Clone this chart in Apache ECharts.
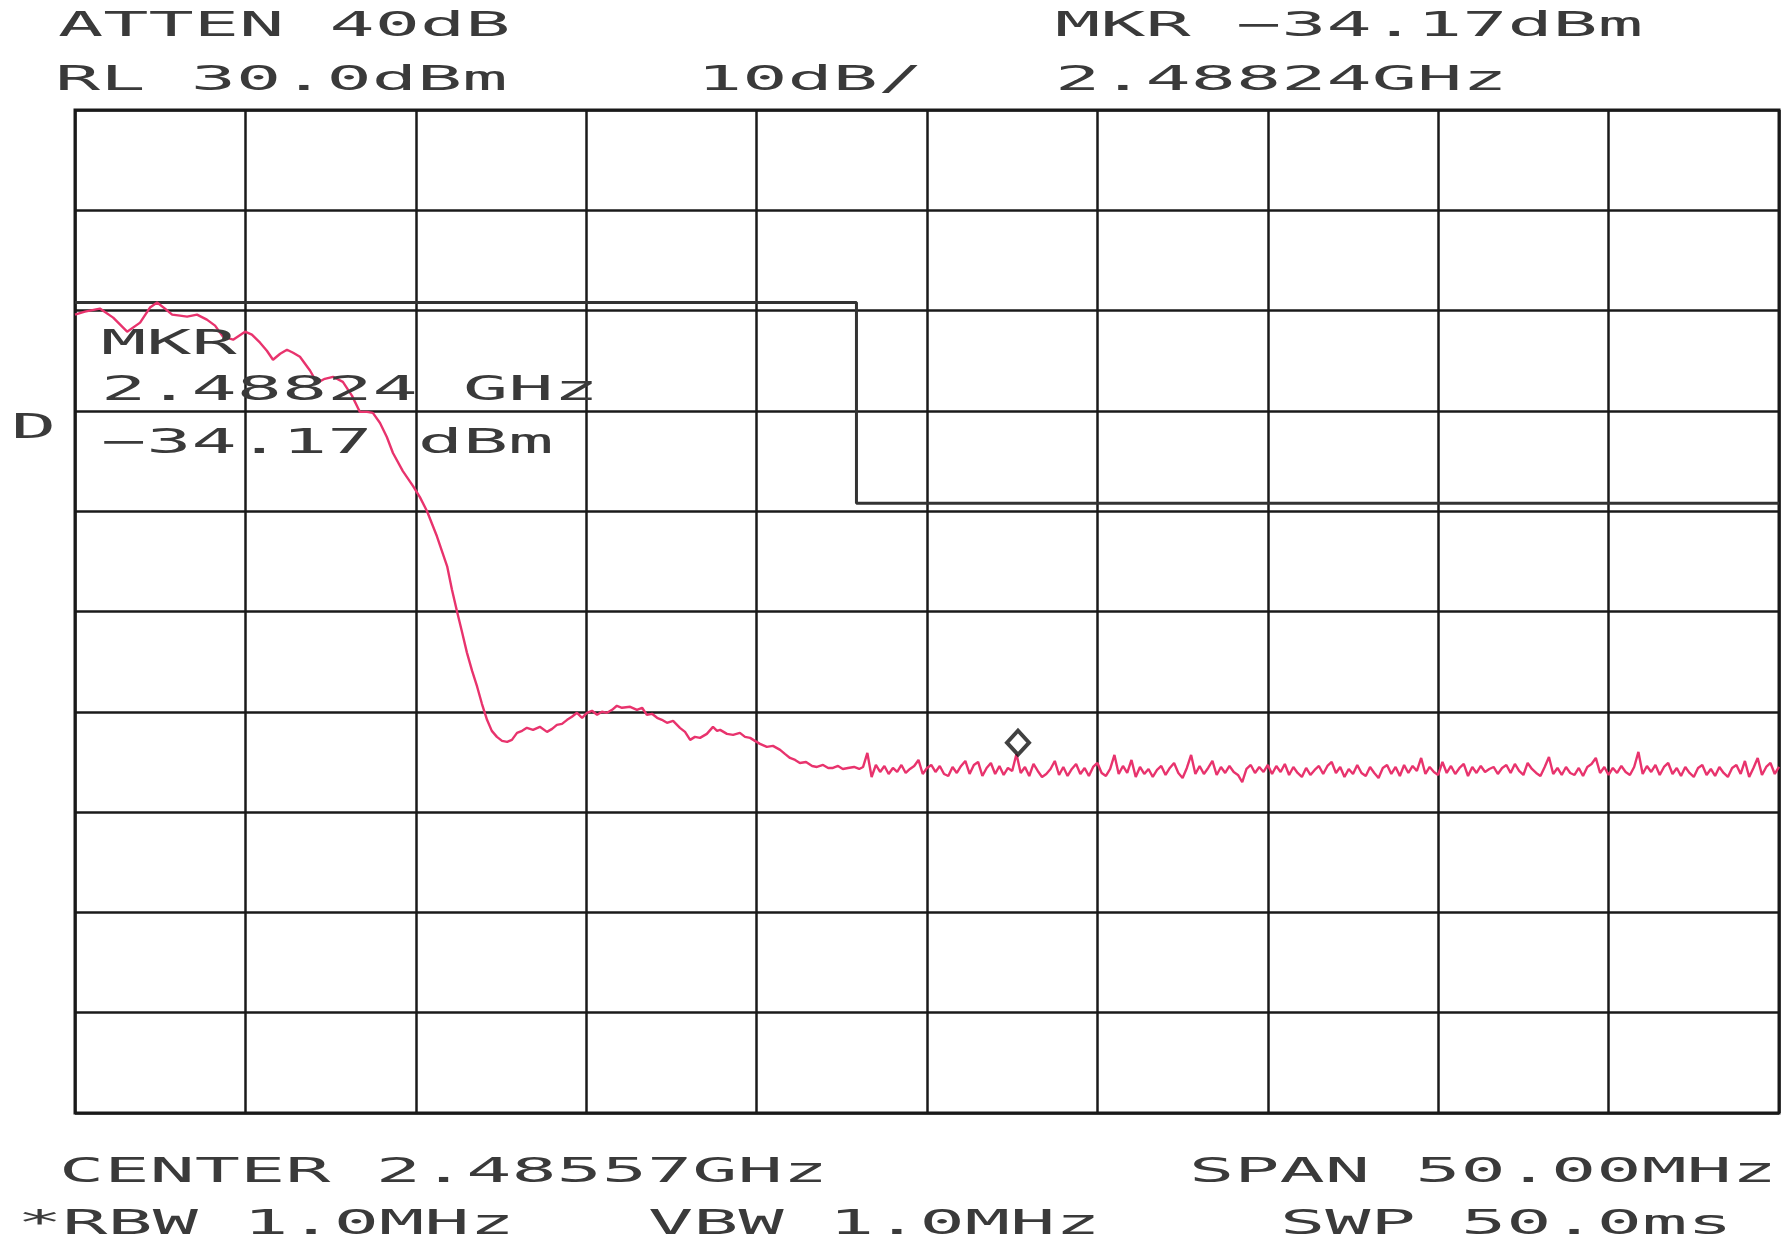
<!DOCTYPE html>
<html>
<head>
<meta charset="utf-8">
<script src="https://cdn.jsdelivr.net/npm/echarts@6/dist/echarts.min.js"></script>
<style>
  html, body { margin: 0; padding: 0; background: #ffffff; }
  #chart { width: 1785px; height: 1244px; }
</style>
</head>
<body>
<div id="chart"></div>
<script>
// ---- Analyzer settings (from the plotter annotations) ----
const centerGHz = 2.48557;
const spanMHz = 50;
const refLevelDbm = 30;
const dbPerDiv = 10;
const markerGHz = 2.48824;
const markerDbm = -34.17;
const bandEdgeGHz = 2.4835;

// ---- Trace: roll-off region, frequency offset from centre (MHz) and level (dBm) ----
const rolloffMHz = [
  -25.00, -24.71, -24.27, -23.88, -23.47, -23.09, -22.80, -22.59, -22.36, -22.15,
  -21.92, -21.71, -21.42, -21.13, -20.89, -20.66, -20.36, -20.01, -19.81, -19.57,
  -19.37, -19.19, -18.98, -18.78, -18.60, -18.40, -18.10, -17.90, -17.67, -17.43,
  -17.14, -16.87, -16.64, -16.43, -16.26, -16.05, -15.85, -15.67, -15.38, -15.08,
  -14.88, -14.67, -14.38, -14.08, -13.94, -13.79, -13.64, -13.50, -13.35, -13.20,
  -13.06, -12.91, -12.77, -12.62, -12.47, -12.32, -12.18, -12.03, -11.88, -11.74,
  -11.56, -11.36, -11.15, -11.00, -10.86, -10.71, -10.56, -10.42, -10.27, -10.12,
  -9.98, -9.83, -9.68, -9.54, -9.39, -9.24, -9.10, -8.95, -8.71, -8.51,
  -8.36, -8.22, -8.07, -7.92, -7.78, -7.63, -7.45, -7.25, -7.10, -6.95,
  -6.81, -6.66, -6.46, -6.28, -6.16, -6.07, -5.87, -5.69, -5.49, -5.34,
  -5.19, -5.05, -4.90, -4.70, -4.52, -4.31, -4.17, -4.02, -3.87, -3.73,
  -3.55, -3.37, -3.23, -3.05, -2.90, -2.76, -2.61, -2.47, -2.32, -2.14,
  -1.99
];
const rolloffDbm = [
  9.6, 9.9, 10.2, 9.3, 7.9, 8.8, 10.3, 10.8, 10.2, 9.6,
  9.5, 9.4, 9.6, 9.1, 8.5, 7.4, 7.1, 7.9, 7.6, 6.8,
  6.0, 5.1, 5.7, 6.1, 5.8, 5.4, 4.0, 2.8, 3.2, 3.4,
  2.9, 1.5, -0.1, -0.1, -0.2, -1.2, -2.6, -4.2, -6.0, -7.5,
  -8.6, -10.0, -12.5, -15.5, -17.8, -20.0, -22.1, -24.1, -25.9, -27.5,
  -29.2, -30.8, -31.9, -32.5, -32.9, -33.0, -32.8, -32.1, -31.9, -31.6,
  -31.8, -31.5, -32.0, -31.7, -31.3, -31.2, -30.8, -30.5, -30.1, -30.6,
  -30.1, -29.9, -30.3, -30.0, -30.1, -29.8, -29.4, -29.6, -29.5, -29.8,
  -29.6, -30.3, -30.2, -30.6, -30.8, -31.1, -30.9, -31.6, -32.0, -32.8,
  -32.5, -32.6, -32.2, -31.5, -31.9, -31.8, -32.2, -32.3, -32.1, -32.5,
  -32.6, -32.9, -33.2, -33.5, -33.4, -33.8, -34.2, -34.6, -34.8, -35.1,
  -35.0, -35.4, -35.5, -35.3, -35.6, -35.6, -35.4, -35.7, -35.6, -35.5,
  -35.7
];

// ---- Trace: noise floor, sampled every 0.125 MHz from -1.875 MHz to the span end ----
const floorStartMHz = -1.875;
const floorStepMHz = 0.125;
const floorDbm = [
  -35.5, -34.1, -36.5, -35.3, -36.0, -35.4, -36.2, -35.6, -36.0, -35.3, -36.1, -35.7,
  -35.4, -34.8, -36.2, -35.6, -35.3, -36.0, -35.4, -36.2, -36.4, -35.5, -36.1, -35.4,
  -34.9, -36.2, -35.3, -35.0, -36.4, -35.6, -35.1, -36.2, -35.4, -36.3, -35.6, -35.9,
  -34.2, -36.1, -35.5, -36.4, -35.2, -35.9, -36.5, -36.2, -35.7, -34.9, -36.3, -35.5,
  -36.4, -35.7, -35.2, -36.2, -35.6, -36.4, -35.5, -35.1, -36.1, -36.4, -35.7, -34.3,
  -36.2, -35.4, -36.1, -34.8, -36.5, -35.5, -36.2, -35.7, -36.5, -35.8, -35.4, -36.3,
  -35.6, -35.1, -36.1, -36.6, -35.6, -34.3, -36.2, -35.4, -36.2, -35.6, -34.9, -36.3,
  -35.5, -36.1, -35.4, -36.0, -36.3, -37.0, -35.7, -35.3, -36.1, -35.5, -36.0, -35.3,
  -36.2, -35.4, -36.0, -35.2, -36.3, -35.5, -36.1, -36.5, -35.6, -36.3, -35.8, -35.4,
  -36.2, -35.4, -35.0, -36.1, -35.5, -36.5, -35.7, -36.2, -35.3, -36.1, -36.4, -35.5,
  -36.1, -36.6, -35.6, -35.3, -36.2, -35.5, -36.4, -35.3, -36.1, -35.4, -35.9, -34.6,
  -36.2, -35.5, -36.0, -36.3, -35.0, -36.1, -35.4, -36.2, -35.6, -35.2, -36.4, -35.5,
  -36.1, -35.4, -36.0, -35.7, -35.5, -36.2, -35.6, -35.3, -36.1, -35.2, -35.9, -36.3,
  -35.1, -35.7, -36.1, -36.4, -35.5, -34.5, -36.2, -35.6, -36.3, -35.5, -36.1, -36.3,
  -35.6, -36.4, -35.5, -35.2, -34.6, -36.1, -35.5, -36.3, -35.6, -36.1, -35.4, -36.0,
  -36.3, -35.5, -34.0, -36.2, -35.4, -36.0, -35.3, -36.3, -35.5, -35.1, -36.2, -35.6,
  -36.4, -35.5, -36.1, -36.5, -35.6, -35.3, -36.3, -35.7, -36.4, -35.5, -36.1, -36.5,
  -35.6, -35.3, -36.2, -34.9, -36.5, -35.6, -34.6, -36.3, -35.5, -35.1, -36.2, -35.5
];

// ---- Limit line levels (dBm): in-band and restricted-band portions ----
const limitInBandDbm = 10.8;
const limitRestrictedDbm = -9.2;

// ---- Plotter annotations ----
const headerLeft = ['ATTEN 40dB', 'RL 30.0dBm'];
const headerScale = '10dB/';
const headerRight = ['MKR \u221234.17dBm', '2.48824GHz'];
const markerReadout = ['MKR', '2.48824 GHz', '\u221234.17 dBm'];
const sideFlag = 'D';
const footerTexts = ['CENTER 2.48557GHz', 'SPAN 50.00MHz', '*RBW 1.0MHz', 'VBW 1.0MHz', 'SWP 50.0ms'];

// ---- Build series data ----
const toOffsetMHz = ghz => +((ghz - centerGHz) * 1000).toFixed(3);
const half = spanMHz / 2;

const traceData = rolloffMHz.map((f, i) => [f, rolloffDbm[i]])
  .concat(floorDbm.map((v, i) => [floorStartMHz + i * floorStepMHz, v]));

const edge = toOffsetMHz(bandEdgeGHz);
const limitData = [
  [-half, limitInBandDbm], [edge, limitInBandDbm],
  [edge, limitRestrictedDbm], [half, limitRestrictedDbm]
];

const markerPoint = [toOffsetMHz(markerGHz), markerDbm];

// ---- Annotation layout (pixel positions; y is the vertical centre of the capitals) ----
const FONT = { fontFamily: 'DejaVu Sans Mono', fontSize: 34, fill: '#3a3a3a' };
const STRETCH = 2.21;
function plotText(text, x, y) {
  return {
    type: 'text', x: x, y: y, scaleX: STRETCH, z: 100,
    style: Object.assign({
      text: text, textAlign: 'left', align: 'left',
      textVerticalAlign: 'middle', verticalAlign: 'middle'
    }, FONT)
  };
}
const graphics = [
  plotText(headerLeft[0], 58, 27),
  plotText(headerLeft[1], 55, 81),
  plotText(headerScale, 697, 81),
  plotText(headerRight[0], 1055, 27),
  plotText(headerRight[1], 1055, 81),
  plotText(markerReadout[0], 101, 345),
  plotText(markerReadout[1], 101, 391),
  plotText(markerReadout[2], 101, 444),
  plotText(sideFlag, 11, 429),
  plotText(footerTexts[0], 59, 1173),
  plotText(footerTexts[1], 1189, 1173),
  plotText(footerTexts[2], 17, 1225),
  plotText(footerTexts[3], 648, 1225),
  plotText(footerTexts[4], 1280, 1225)
];

const gridLine = { color: '#1a1a1a', width: 2.5 };

const chart = echarts.init(document.getElementById('chart'), null, { renderer: 'canvas' });
chart.setOption({
  backgroundColor: '#ffffff',
  animation: false,
  grid: {
    left: 75, top: 110, width: 1704, height: 1003,
    show: true, borderColor: '#1a1a1a', borderWidth: 3, backgroundColor: 'transparent'
  },
  xAxis: {
    type: 'value', min: -half, max: half, interval: spanMHz / 10,
    axisLine: { show: false }, axisTick: { show: false }, axisLabel: { show: false },
    splitLine: { show: true, lineStyle: gridLine }
  },
  yAxis: {
    type: 'value', min: refLevelDbm - 10 * dbPerDiv, max: refLevelDbm, interval: dbPerDiv,
    axisLine: { show: false }, axisTick: { show: false }, axisLabel: { show: false },
    splitLine: { show: true, lineStyle: gridLine }
  },
  series: [
    {
      name: 'Limit', type: 'line', data: limitData, showSymbol: false, symbol: 'none',
      lineStyle: { color: '#333333', width: 3 }, z: 2, silent: true
    },
    {
      name: 'Trace', type: 'line', data: traceData, showSymbol: false, symbol: 'none',
      lineStyle: { color: '#e8336d', width: 2.4 }, z: 3, silent: true
    },
    {
      name: 'Marker', type: 'scatter', data: [markerPoint],
      symbol: 'diamond', symbolSize: [22, 24], symbolOffset: [0, -11],
      itemStyle: { color: '#ffffff', borderColor: '#111111', borderWidth: 4 },
      z: 4, silent: true
    }
  ],
  graphic: graphics
});
</script>
</body>
</html>
